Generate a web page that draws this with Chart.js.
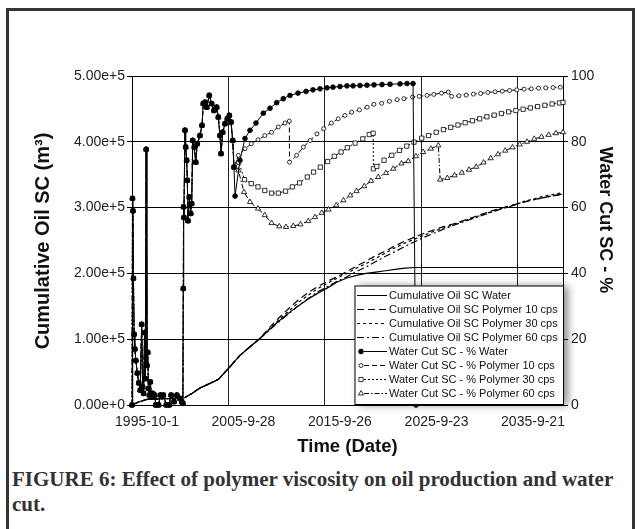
<!DOCTYPE html>
<html>
<head>
<meta charset="utf-8">
<script src="https://cdn.jsdelivr.net/npm/chart.js@4.4.0/dist/chart.umd.min.js"></script>
<style>
  html, body { margin: 0; padding: 0; background: #fff; }
  #page { position: relative; width: 638px; height: 529px; overflow: hidden; }
  #frame { position: absolute; left: 6px; top: 8px; width: 629px; height: 540px; border: 3px solid #333; box-sizing: border-box; }
  #c { position: absolute; left: 0; top: 0; }
  #caption { position: absolute; left: 12px; top: 467px; white-space: nowrap;
             font: bold 21px "Liberation Serif", "Times New Roman", serif; color: #333; line-height: 25px; }
</style>
</head>
<body>
<div id="page">
  <div id="frame"></div>
  <canvas id="c" width="638" height="460"></canvas>
  <div id="caption">FIGURE 6: Effect of polymer viscosity on oil production and water<br>cut.</div>
</div>
<script>
// time axis in decimal years, ticks every 3650 days from 1995-10-1
const xTickVals = [1995.75, 2005.74, 2015.73, 2025.73, 2035.72];
const xTickLabels = ["1995-10-1", "2005-9-28", "2015-9-26", "2025-9-23", "2035-9-21"];
const xMin = 1995.75, xMax = 2040.38;

// cumulative oil (m3) - history shared by all runs
const cumHistYears = [1995.75, 1996.5, 1997.3, 1998.0, 1999.0, 2000.0, 2001.2, 2002.0, 2002.8, 2004.0, 2004.7, 2005.7, 2006.9, 2008.0, 2009.0];
const cumHistVals  = [0, 5000, 8500, 9000, 9500, 10000, 11000, 18000, 26000, 34000, 39000, 55000, 75000, 89000, 101000];

// cumulative oil forecasts
const cumFcYears = [2010, 2011, 2012, 2013, 2014, 2015, 2016, 2017, 2018, 2019, 2020, 2021, 2022, 2023, 2024, 2025,
  2026, 2027, 2028, 2029, 2030, 2031, 2032, 2033, 2034, 2035, 2036, 2037, 2038, 2039, 2040.38];
const cumWater = [115000, 128000, 140000, 151000, 161000, 170000, 178000, 187000, 193000, 197000, 200000, 202000, 204000, 206000, 208000, 209000,
  209000, 209000, 209000, 209000, 209000, 209000, 209000, 209000, 209000, 209000, 209000, 209000, 209000, 209000, 209000];
const cumP10 = [118000, 133000, 147000, 160000, 171000, 180000, 188000, 195000, 203000, 211000, 219000, 227000, 234000, 242000, 249000, 255000,
  261000, 266000, 271000, 275000, 280000, 285000, 290000, 295000, 299000, 303000, 307000, 311000, 314000, 317000, 321000];
const cumP30 = [116000, 130000, 143000, 156000, 167000, 177000, 185000, 193000, 200000, 208000, 215000, 223000, 231000, 239000, 246000, 252000,
  258000, 264000, 269000, 274000, 279000, 284000, 289000, 294000, 299000, 303000, 308000, 312000, 316000, 319000, 323000];
const cumP60 = [114000, 127000, 139000, 151000, 162000, 172000, 180000, 188000, 195000, 203000, 210000, 218000, 226000, 233000, 241000, 248000,
  255000, 261000, 267000, 273000, 278000, 283000, 288000, 293000, 298000, 302000, 307000, 311000, 314000, 317000, 320000];

// water cut (%) - history shared by all runs
const wcHistYears = [1995.75, 1995.8, 1995.85, 1995.9, 1995.97, 1996.05, 1996.15, 1996.3, 1996.45, 1996.6, 1996.75, 1996.85, 1996.95,
  1997.05, 1997.12, 1997.22, 1997.3, 1997.38, 1997.45, 1997.55, 1997.65, 1997.75, 1997.9, 1998.1, 1998.2, 1998.5, 1998.7,
  1999.0, 1999.3, 1999.6, 1999.8, 2000.1, 2000.4, 2000.7, 2000.9, 2001.02, 2001.06, 2001.09, 2001.13, 2001.24, 2001.31,
  2001.41, 2001.48, 2001.55, 2001.68, 2001.83, 2001.93, 2002.04, 2002.2, 2002.35, 2002.51, 2002.79, 2003.0, 2003.13,
  2003.31, 2003.49, 2003.75, 2004.0, 2004.24, 2004.52, 2004.69, 2004.86, 2004.97, 2005.14, 2005.38, 2005.62, 2005.83,
  2006.0, 2006.18, 2006.31];
const wcHistVals = [0, 62.8, 59, 38.5, 21.5, 17, 13.5, 9.7, 6.7, 4.5, 24.5, 5.5, 3.5,
  22, 8, 77.7, 12, 16, 5, 3, 7, 2.5, 3.5, 3, 0, 0, 3,
  3, 0, 0, 3, 1, 3, 2, 1, 0.5, 35.4, 60.2, 57, 83.5, 78.4,
  74.4, 68.3, 56, 63.2, 58.2, 61.2, 80.4, 78.4, 73.8, 79.4, 81.9, 85, 91.6,
  92, 90.5, 94.1, 91.6, 89.5, 90.5, 87.5, 81.9, 76.4, 82.9, 85.5, 87, 88,
  86, 80.4, 72.3];

// water cut forecasts
const wcWaterYears = [2006.42, 2006.93, 2007.45, 2007.97, 2008.59, 2009.35, 2010.04, 2010.73, 2011.42, 2012.11, 2012.94, 2013.77,
  2014.49, 2015.22, 2015.94, 2016.56, 2017.29, 2018.01, 2018.64, 2019.36, 2020.08, 2020.81, 2021.64, 2022.47, 2023.5,
  2024.23, 2024.85, 2025.16];
const wcWaterVals = [63.5, 74.4, 81, 83.5, 85.7, 88.7, 90.2, 91.9, 93.1, 94.1, 94.8, 95.3,
  95.8, 96.1, 96.4, 96.6, 96.8, 97.0, 97.0, 97.1, 97.2, 97.3, 97.4, 97.5, 97.6,
  97.7, 97.7, 0];

const wcP10Years = [2006.76, 2007.45, 2008.1, 2008.8, 2009.5, 2010.2, 2010.9, 2011.6, 2012.04, 2012.06, 2012.8, 2013.5,
  2014.2, 2014.9, 2015.6, 2016.4, 2017.1, 2017.8, 2018.5, 2019.3, 2020.1, 2020.8, 2021.6, 2022.4, 2023.2, 2023.9,
  2024.8, 2025.5, 2026.3, 2027.0, 2027.8, 2028.5, 2028.85, 2029.6, 2030.35, 2031.1, 2031.85, 2032.6, 2033.35, 2034.1,
  2034.85, 2035.6, 2036.35, 2037.1, 2037.85, 2038.6, 2039.35, 2040.1];
const wcP10Vals = [75.9, 77.9, 79.4, 80.6, 81.9, 82.9, 84.5, 85.7, 86.3, 73.8, 75.9, 78.4,
  80.4, 82.4, 84.0, 85.7, 87.0, 88.0, 89.0, 89.7, 90.5, 91.4, 91.7, 92.3, 92.8, 93.1,
  93.6, 93.8, 94.1, 94.4, 94.8, 95.1, 93.8, 94.0, 94.2, 94.5, 94.7, 95.0, 95.2, 95.4,
  95.6, 95.8, 96.0, 96.1, 96.3, 96.4, 96.5, 96.6];

const wcP30Years = [2006.8, 2007.4, 2008.1, 2008.8, 2009.5, 2010.2, 2010.9, 2011.65, 2012.35, 2013.1, 2013.9, 2014.55,
  2015.25, 2016.0, 2016.7, 2017.4, 2018.05, 2018.85, 2019.65, 2020.32, 2020.72, 2020.75, 2021.1, 2021.85, 2022.65,
  2023.45, 2024.2, 2024.95, 2025.75, 2026.45, 2027.25, 2028.0, 2028.75, 2029.5, 2030.25, 2031.0, 2031.75, 2032.5,
  2033.25, 2034.0, 2034.75, 2035.5, 2036.25, 2037.0, 2037.75, 2038.5, 2039.25, 2040.0, 2040.38];
const wcP30Vals = [73.8, 68.5, 67.3, 66.3, 65.2, 64.4, 64.4, 65.0, 66.3, 67.5, 69.3, 70.8,
  72.3, 74.0, 75.6, 76.9, 78.2, 79.6, 80.9, 82.2, 82.6, 71.8, 72.5, 74.4, 75.9,
  77.4, 78.7, 79.9, 81.1, 81.9, 82.9, 83.7, 84.4, 85.1, 85.8, 86.4, 87.0, 87.6,
  88.1, 88.6, 89.1, 89.5, 89.9, 90.3, 90.7, 91.1, 91.5, 91.8, 92.0];

const wcP60Years = [2006.76, 2007.35, 2007.97, 2008.8, 2009.5, 2010.2, 2011.0, 2011.7, 2012.45, 2013.2, 2014.0, 2014.7,
  2015.4, 2016.1, 2016.9, 2017.65, 2018.35, 2019.0, 2019.8, 2020.5, 2021.25, 2022.05, 2022.8, 2023.65, 2024.35,
  2025.15, 2025.9, 2026.7, 2027.47, 2027.66, 2028.4, 2029.15, 2029.9, 2030.65, 2031.4, 2032.15, 2032.9, 2033.65,
  2034.4, 2035.15, 2035.9, 2036.65, 2037.4, 2038.15, 2038.9, 2039.65, 2040.38];
const wcP60Vals = [71.3, 64.7, 61.7, 59.7, 57.7, 55.3, 54.3, 54.1, 54.4, 54.9, 55.9, 57.1,
  58.4, 59.4, 60.7, 62.2, 63.7, 65.0, 66.5, 68.1, 69.3, 70.5, 71.8, 73.4, 74.1,
  75.6, 76.9, 77.9, 78.9, 68.5, 69.0, 69.8, 70.6, 71.5, 72.4, 73.7, 75.0, 76.2,
  77.3, 78.3, 79.2, 80.0, 80.9, 81.5, 82.1, 82.6, 82.9];

function pts(xs, ys) { return xs.map((x, i) => ({ x: x, y: ys[i] })); }

const cumHist = pts(cumHistYears, cumHistVals);
const wcHist = pts(wcHistYears, wcHistVals);

const FONT = '"Liberation Sans", Arial, Helvetica, sans-serif';
Chart.defaults.font.family = FONT;
Chart.defaults.color = "#222";

function cumSet(label, vals, dash, width) {
  return {
    label: label, yAxisID: "y",
    data: cumHist.concat(pts(cumFcYears, vals)),
    borderColor: "#000", borderWidth: width, borderDash: dash,
    pointRadius: 0, fill: false, clip: false,
  };
}
function wcSet(label, years, vals, dash, style, radius, filled) {
  return {
    label: label, yAxisID: "y2",
    data: wcHist.concat(pts(years, vals)),
    borderColor: "#000", borderWidth: 1, borderDash: dash,
    pointStyle: style, pointRadius: radius, pointBorderWidth: 0.8,
    pointBorderColor: "#000", pointBackgroundColor: filled ? "#000" : "#fff",
    fill: false, clip: false,
  };
}

const datasets = [
  cumSet("Cumulative Oil SC Water", cumWater, [], 1.2),
  cumSet("Cumulative Oil SC Polymer 10 cps", cumP10, [7, 4], 1.2),
  cumSet("Cumulative Oil SC Polymer 30 cps", cumP30, [3, 3], 1.2),
  cumSet("Cumulative Oil SC Polymer 60 cps", cumP60, [7, 3, 2, 3], 1.2),
  wcSet("Water Cut SC - % Water", wcWaterYears, wcWaterVals, [], "circle", 2.4, true),
  wcSet("Water Cut SC - % Polymer 10 cps", wcP10Years, wcP10Vals, [5, 3], "circle", 2, false),
  wcSet("Water Cut SC - % Polymer 30 cps", wcP30Years, wcP30Vals, [2, 2], "rect", 3, false),
  wcSet("Water Cut SC - % Polymer 60 cps", wcP60Years, wcP60Vals, [5, 2, 1.5, 2], "triangle", 3, false),
];

// legend box inside the plot, drawn over the data
const boxLegend = {
  id: "boxLegend",
  afterDraw(chart) {
    const ctx = chart.ctx;
    const L = 355, T = 286, R = 563.5, B = 404.5;
    ctx.save();
    ctx.shadowColor = "rgba(0,0,0,0.45)";
    ctx.shadowBlur = 8;
    ctx.shadowOffsetX = 4;
    ctx.fillStyle = "#fff";
    ctx.fillRect(L, T, R - L, B - T);
    ctx.restore();
    ctx.save();
    ctx.strokeStyle = "#000";
    ctx.lineWidth = 1;
    ctx.strokeRect(L, T, R - L, B - T);
    ctx.font = "11px " + FONT;
    ctx.textBaseline = "middle";
    chart.data.datasets.forEach((ds, i) => {
      const y = 295.5 + 14 * i;
      const hasPt = ds.pointRadius > 0;
      ctx.strokeStyle = "#000";
      ctx.lineWidth = 1;
      ctx.setLineDash(ds.borderDash || []);
      ctx.beginPath();
      ctx.moveTo(hasPt ? 364 : 357, y);
      ctx.lineTo(387, y);
      ctx.stroke();
      ctx.setLineDash([]);
      if (hasPt) {
        ctx.fillStyle = ds.pointBackgroundColor;
        ctx.lineWidth = 0.8;
        Chart.helpers.drawPoint(ctx, { pointStyle: ds.pointStyle, radius: ds.pointRadius, borderWidth: 0.8, rotation: 0 }, 361, y);
      }
      ctx.fillStyle = "#111";
      ctx.fillText(ds.label, 389, y);
    });
    ctx.restore();
  }
};

// axis titles at fixed spots
const axisTitles = {
  id: "axisTitles",
  afterDraw(chart) {
    const ctx = chart.ctx;
    ctx.save();
    ctx.fillStyle = "#111";
    ctx.textAlign = "center";
    ctx.textBaseline = "middle";
    ctx.font = "bold 18.5px " + FONT;
    ctx.fillText("Time (Date)", 347.5, 447);
    ctx.save();
    ctx.font = "bold 20px " + FONT;
    ctx.translate(43, 241);
    ctx.rotate(-Math.PI / 2);
    ctx.fillText("Cumulative Oil SC (m³)", 0, 0);
    ctx.restore();
    ctx.save();
    ctx.font = "bold 18px " + FONT;
    ctx.translate(605, 220);
    ctx.rotate(Math.PI / 2);
    ctx.fillText("Water Cut SC - %", 0, 0);
    ctx.restore();
    ctx.restore();
  }
};

const tickFont = { size: 14 };

new Chart(document.getElementById("c"), {
  type: "line",
  data: { datasets: datasets },
  plugins: [boxLegend, axisTitles],
  options: {
    responsive: false,
    animation: false,
    layout: { padding: { top: 76, left: 0, right: 0, bottom: 0 } },
    elements: { line: { tension: 0 } },
    plugins: { legend: { display: false }, tooltip: { enabled: false } },
    scales: {
      x: {
        type: "linear", min: xMin, max: xMax,
        afterBuildTicks: (s) => { s.ticks = xTickVals.map(v => ({ value: v })); },
        afterFit: (s) => { s.height = 55; },
        ticks: {
          callback: (v, i) => xTickLabels[i], labelOffset: 15, padding: 9,
          maxRotation: 0, autoSkip: false, font: tickFont, color: "#222",
        },
        grid: { color: "#222", lineWidth: 1, drawTicks: false },
        border: { color: "#000", width: 1 },
      },
      y: {
        position: "left", min: 0, max: 500000,
        afterFit: (s) => { s.width = 132; },
        ticks: { stepSize: 100000, callback: (v) => Number(v).toExponential(2), padding: 2, font: tickFont, color: "#222" },
        grid: { color: "#000", lineWidth: 1, tickLength: 5 },
        border: { color: "#000", width: 1 },
      },
      y2: {
        position: "right", min: 0, max: 100,
        afterFit: (s) => { s.width = 75; },
        ticks: { stepSize: 20, padding: 3, font: tickFont, color: "#222" },
        grid: { drawOnChartArea: false, color: "#000", tickLength: 5 },
        border: { color: "#000", width: 1 },
      },
    },
  },
});
</script>
</body>
</html>
